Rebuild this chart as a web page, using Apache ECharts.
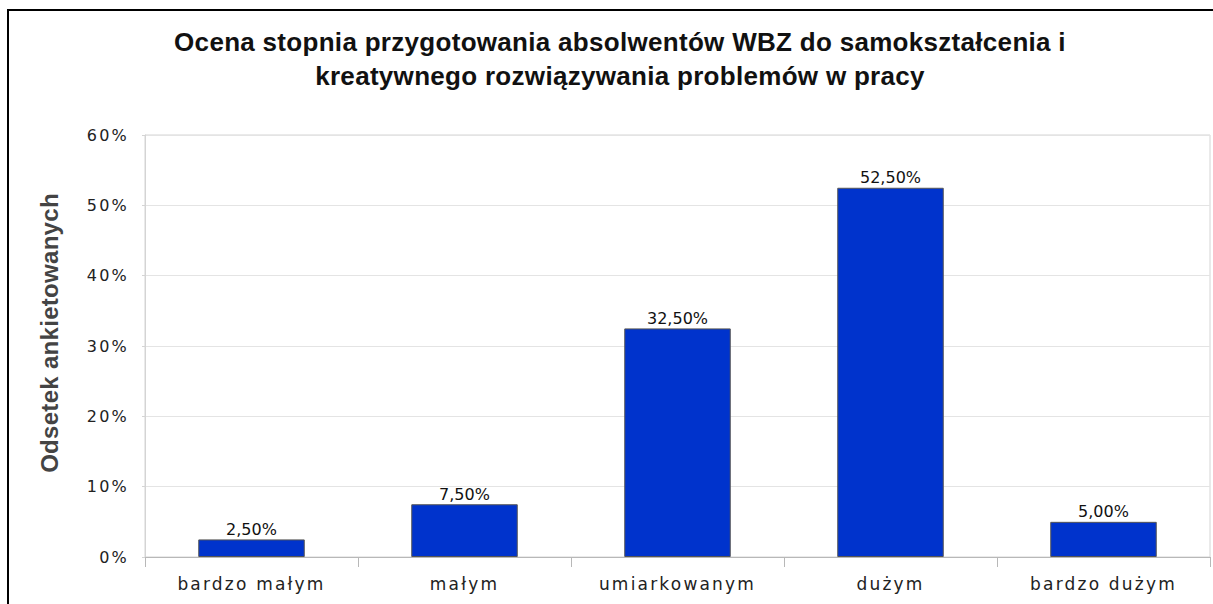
<!DOCTYPE html>
<html>
<head>
<meta charset="utf-8">
<script src="https://cdn.jsdelivr.net/npm/echarts@6/dist/echarts.min.js"></script>
<style>
  html, body { margin: 0; padding: 0; background: #fff; }
  #chart { width: 1213px; height: 604px; }
  #chart svg text[style*="Verdana"] { letter-spacing: 2.2px; }
  #chart svg text[style*="Arial"] { letter-spacing: 0.3px; }
</style>
</head>
<body>
<div id="chart"></div>
<script>
const titleText = 'Ocena stopnia przygotowania absolwentów WBZ do samokształcenia i\nkreatywnego rozwiązywania problemów w pracy';
const yAxisName = 'Odsetek ankietowanych';
const categories = ['bardzo małym', 'małym', 'umiarkowanym', 'dużym', 'bardzo dużym'];
const values = [2.5, 7.5, 32.5, 52.5, 5.0];
const yTicks = [0, 10, 20, 30, 40, 50, 60];

const chart = echarts.init(document.getElementById('chart'), null, { renderer: 'svg' });
chart.setOption({
  animation: false,
  backgroundColor: '#ffffff',
  title: {
    text: titleText,
    left: 620,
    top: 25,
    padding: 0,
    textAlign: 'center',
    textStyle: {
      fontFamily: 'Arial, "Liberation Sans"',
      fontWeight: 'bold',
      fontSize: 26,
      lineHeight: 34,
      color: '#111111'
    }
  },
  graphic: [{
    type: 'rect',
    shape: { x: 8, y: 10, width: 1400, height: 800 },
    style: { fill: 'none', stroke: '#000000', lineWidth: 2 },
    silent: true
  }],
  grid: {
    left: 145, top: 135, right: 3, bottom: 47,
    show: true, borderColor: '#d4d4d4', borderWidth: 1,
    containLabel: false
  },
  xAxis: {
    type: 'category',
    data: categories,
    axisLine: { lineStyle: { color: '#b8b8b8', width: 1 } },
    axisTick: { show: true, alignWithLabel: false, length: 10, lineStyle: { color: '#b8b8b8' } },
    axisLabel: {
      margin: 18,
      fontFamily: 'Verdana, "DejaVu Sans"',
      fontSize: 17,
      color: '#222222'
    },
    splitLine: { show: false }
  },
  yAxis: {
    type: 'value',
    min: yTicks[0],
    max: yTicks[yTicks.length - 1],
    interval: 10,
    name: yAxisName,
    nameLocation: 'middle',
    nameGap: 84,
    nameTextStyle: {
      fontFamily: 'Arial, "Liberation Sans"',
      fontWeight: 'bold',
      fontSize: 24,
      color: '#444444',
      padding: [0, 0, 0, 26]
    },
    axisLine: { show: true, lineStyle: { color: '#d4d4d4' } },
    axisTick: { show: true, length: 3, lineStyle: { color: '#d4d4d4' } },
    axisLabel: {
      margin: 16,
      formatter: v => v + '%',
      fontFamily: 'Verdana, "DejaVu Sans"',
      fontSize: 16,
      color: '#222222'
    },
    splitLine: { show: true, lineStyle: { color: '#e4e4e4', width: 1 } }
  },
  series: [{
    type: 'bar',
    data: values,
    barWidth: '50%',
    itemStyle: { color: '#0033cc', borderColor: '#555555', borderWidth: 1 },
    label: {
      show: true,
      position: 'top',
      distance: 2,
      formatter: p => p.value.toFixed(2).replace('.', ',') + '%',
      fontFamily: '"DejaVu Sans"',
      fontSize: 16,
      color: '#111111'
    }
  }]
});
</script>
</body>
</html>
